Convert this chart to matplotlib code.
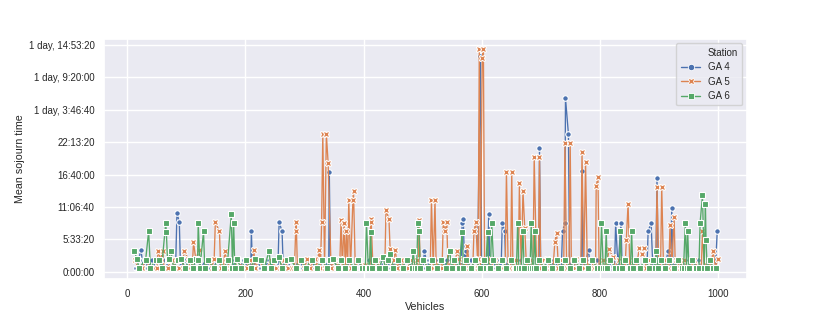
import datetime
import matplotlib
matplotlib.use("Agg")
import matplotlib.pyplot as plt
from matplotlib.lines import Line2D
from matplotlib.ticker import FuncFormatter, MultipleLocator
import seaborn as sns

stations = ["GA 4", "GA 5", "GA 6"]

# (vehicle, mean sojourn time in seconds) per station
ga4_points = [
    (14, 2500), (19, 7400), (23, 13400), (27, 2500), (30, 7600), (35, 2500), (42, 7400), (48, 2500),
    (56, 2500), (63, 7400), (70, 2500), (77, 2500), (82, 7400), (84, 36400), (88, 30500), (90, 2500),
    (97, 7400), (104, 2500), (111, 2500), (118, 7400), (125, 2500), (133, 7400), (139, 2500), (146, 2500),
    (153, 7400), (160, 2500), (168, 2500), (175, 7400), (183, 2500), (190, 2500), (197, 7400), (204, 2500),
    (209, 2500), (210, 24900), (212, 2500), (219, 7400), (226, 2500), (233, 2500), (240, 7400), (247, 2500),
    (255, 2500), (257, 30500), (262, 25100), (264, 2500), (270, 7400), (277, 2500), (284, 2500), (291, 7400),
    (298, 2500), (305, 2500), (311, 7400), (318, 2500), (325, 2500), (332, 7400), (341, 2500), (342, 61700),
    (344, 2500), (350, 7400), (356, 2500), (363, 2500), (370, 7400), (377, 2500), (384, 2500), (390, 7400),
    (397, 2500), (403, 2500), (409, 7400), (416, 2500), (422, 2500), (428, 7400), (434, 2500), (440, 2500),
    (447, 7400), (453, 2500), (459, 2500), (465, 7400), (471, 2500), (477, 2500), (483, 7400), (489, 2500),
    (495, 2500), (501, 2500), (503, 13000), (506, 7400), (512, 2500), (518, 2500), (524, 7400), (530, 2500),
    (536, 2500), (542, 7400), (548, 2500), (554, 2500), (560, 7400), (565, 2500), (567, 30000), (569, 32500),
    (571, 2500), (573, 12600), (576, 2500), (582, 7400), (588, 2500), (593, 2500), (598, 133000), (600, 2500),
    (605, 7400), (610, 2500), (612, 35400), (614, 2500), (619, 7400), (624, 2500), (630, 7400), (633, 2500),
    (635, 30200), (639, 25100), (641, 2500), (646, 7400), (652, 2500), (658, 2500), (664, 7400), (670, 2500),
    (676, 2500), (682, 7400), (688, 2500), (694, 2500), (697, 2500), (698, 76300), (700, 2500), (705, 7400),
    (711, 2500), (717, 2500), (723, 7400), (729, 2500), (735, 2500), (737, 24900), (741, 30200), (742, 107200),
    (747, 85000), (749, 2500), (754, 7400), (760, 2500), (765, 2500), (769, 2500), (770, 62100), (772, 2500),
    (777, 7400), (781, 13200), (784, 2500), (790, 2500), (796, 7400), (802, 2500), (808, 2500), (814, 7400),
    (820, 2500), (825, 2500), (827, 30000), (831, 2500), (836, 30000), (838, 2500), (844, 7400), (850, 2500),
    (856, 2500), (862, 7400), (868, 2500), (874, 2500), (880, 2500), (882, 25100), (887, 30000), (890, 2500),
    (895, 2500), (897, 57600), (899, 2500), (904, 7400), (910, 2500), (916, 13000), (920, 2500), (922, 39300),
    (924, 2500), (930, 7400), (936, 2500), (942, 2500), (948, 7400), (954, 2500), (960, 2500), (966, 7400),
    (972, 2500), (978, 2500), (984, 7400), (990, 2500), (996, 2500), (999, 24900),
]

ga5_points = [
    (13, 7400), (18, 2500), (25, 2500), (31, 7400), (38, 2500), (45, 2500), (50, 2500), (52, 13000),
    (56, 7400), (60, 13000), (62, 2500), (68, 2500), (75, 7400), (81, 2500), (88, 2500), (94, 2500),
    (96, 13000), (103, 8000), (106, 2500), (110, 2500), (112, 18300), (116, 7400), (121, 13200), (124, 2500),
    (131, 2500), (137, 7400), (143, 2500), (147, 8000), (149, 30500), (156, 24900), (158, 2500), (163, 2500),
    (165, 13000), (168, 7400), (174, 2500), (181, 2500), (188, 7400), (195, 2500), (202, 2500), (208, 7400),
    (212, 2500), (214, 13400), (217, 2500), (223, 7400), (230, 2500), (237, 2500), (244, 7400), (251, 2500),
    (258, 2500), (265, 7400), (272, 2500), (278, 2500), (283, 2500), (285, 24900), (286, 30500), (288, 2500),
    (294, 7400), (300, 2500), (305, 8000), (310, 2500), (317, 8000), (320, 2500), (325, 13400), (327, 2500),
    (329, 30500), (331, 85000), (334, 2500), (337, 85000), (340, 67300), (345, 2500), (352, 7400), (358, 2500),
    (360, 8000), (362, 32100), (364, 2500), (367, 30200), (369, 2500), (371, 24900), (373, 2500), (375, 44400),
    (378, 2500), (382, 44400), (383, 49800), (386, 2500), (392, 7400), (398, 2500), (403, 4300), (408, 2500),
    (411, 2500), (412, 32500), (413, 30500), (416, 2500), (422, 7400), (428, 2500), (434, 2500), (436, 2500),
    (438, 37900), (443, 32700), (445, 14200), (448, 2500), (451, 7400), (454, 13200), (457, 2500), (463, 7400),
    (469, 2500), (475, 2500), (481, 7400), (485, 2500), (490, 7400), (493, 2500), (494, 32100), (496, 2500),
    (502, 7400), (508, 2500), (513, 2500), (515, 44400), (518, 2500), (521, 44400), (523, 2500), (529, 7400),
    (533, 2500), (535, 30500), (538, 24900), (541, 30500), (543, 2500), (549, 7400), (555, 2500), (558, 13000),
    (562, 8000), (566, 2500), (571, 7400), (574, 2500), (576, 15900), (579, 2500), (585, 2500), (587, 24900),
    (590, 30500), (593, 8000), (594, 2500), (596, 137200), (598, 2500), (601, 131900), (603, 137200), (605, 2500),
    (611, 8000), (616, 2500), (622, 7400), (628, 2500), (634, 2500), (640, 2500), (642, 61700), (645, 2500),
    (649, 2500), (651, 61700), (653, 2500), (658, 7400), (662, 2500), (664, 54900), (667, 2500), (670, 49600),
    (673, 27100), (676, 2500), (682, 7400), (687, 2500), (689, 71000), (693, 2500), (696, 2500), (698, 71000),
    (700, 2500), (706, 7400), (711, 8000), (716, 2500), (721, 2500), (724, 18500), (727, 24000), (730, 2500),
    (735, 7400), (739, 2500), (741, 79200), (744, 2500), (748, 2500), (750, 79200), (752, 2500), (757, 2500),
    (760, 8000), (764, 2500), (768, 2500), (770, 73700), (773, 2500), (776, 67900), (779, 2500), (785, 7400),
    (790, 2500), (793, 2500), (794, 52800), (797, 58400), (799, 2500), (805, 7400), (811, 2500), (816, 14200),
    (822, 8900), (826, 2500), (832, 7400), (836, 2500), (840, 8000), (843, 2500), (845, 19600), (848, 42000),
    (851, 2500), (857, 7400), (862, 2500), (867, 14600), (872, 10900), (875, 14600), (878, 2500), (884, 7400),
    (890, 2500), (895, 2500), (897, 52400), (900, 2500), (903, 2500), (905, 52400), (908, 2500), (913, 7400),
    (917, 2500), (919, 28600), (922, 2500), (926, 33900), (928, 2500), (930, 7200), (936, 2500), (942, 7400),
    (948, 2500), (954, 2500), (960, 7400), (966, 2500), (972, 2500), (974, 24900), (977, 2500), (983, 7400),
    (988, 2500), (992, 13000), (996, 2500), (1000, 8000),
]

ga6_points = [
    (12, 13000), (16, 7600), (20, 2500), (31, 7400), (36, 24900), (39, 2500), (49, 7400), (53, 7400),
    (58, 2500), (65, 30200), (66, 24700), (68, 7400), (70, 7600), (74, 13000), (78, 2500), (86, 7400),
    (91, 7600), (98, 2500), (106, 7400), (111, 2500), (116, 7600), (119, 7400), (120, 30200), (123, 2500),
    (129, 24900), (131, 2500), (137, 7400), (146, 2500), (155, 7400), (164, 2500), (170, 7400), (176, 35400),
    (178, 2500), (180, 30200), (182, 2500), (185, 7600), (193, 2500), (201, 7400), (209, 2500), (216, 7600),
    (226, 7400), (232, 2500), (240, 12800), (243, 2500), (249, 7400), (256, 8900), (262, 2500), (271, 7400),
    (277, 7600), (285, 2500), (294, 7400), (303, 2500), (312, 7400), (321, 2500), (330, 7400), (338, 2500),
    (344, 7400), (348, 7600), (356, 2500), (362, 7400), (369, 2500), (376, 7400), (383, 2500), (390, 7400),
    (398, 2500), (403, 2500), (405, 30200), (408, 2500), (410, 2500), (412, 24700), (414, 2500), (419, 7400),
    (427, 2500), (433, 9300), (437, 2500), (442, 7400), (445, 10700), (450, 2500), (458, 7400), (466, 2500),
    (473, 7400), (482, 2500), (484, 13000), (487, 2500), (490, 2500), (492, 30200), (494, 25100), (496, 2500),
    (501, 7400), (509, 2500), (516, 7400), (524, 2500), (531, 7400), (539, 2500), (546, 13000), (549, 2500),
    (554, 7400), (562, 2500), (567, 24700), (569, 2500), (574, 7400), (582, 2500), (589, 7400), (597, 2500),
    (604, 7400), (607, 2500), (610, 24700), (612, 2500), (615, 2500), (617, 30200), (620, 7400), (627, 2500),
    (634, 7400), (642, 2500), (649, 7400), (656, 2500), (659, 2500), (661, 30200), (663, 2500), (667, 2500),
    (670, 25000), (672, 2500), (677, 7400), (682, 2500), (684, 30200), (686, 2500), (688, 2500), (690, 25100),
    (692, 2500), (697, 7400), (705, 2500), (712, 7400), (720, 2500), (727, 7400), (735, 2500), (742, 7400),
    (750, 2500), (757, 7400), (765, 2500), (772, 7400), (780, 2500), (787, 7400), (795, 2500), (801, 2500),
    (803, 30000), (806, 2500), (809, 2500), (811, 24900), (813, 2500), (818, 7400), (826, 2500), (833, 2500),
    (835, 24900), (837, 2500), (842, 7400), (850, 2500), (852, 2500), (854, 24900), (856, 2500), (861, 7400),
    (869, 2500), (876, 7400), (884, 2500), (891, 7400), (894, 2500), (896, 13000), (898, 2500), (903, 7400),
    (911, 2500), (918, 7400), (926, 2500), (933, 7400), (940, 2500), (942, 2500), (945, 30000), (947, 2500),
    (949, 24900), (951, 2500), (956, 7400), (963, 2500), (968, 2500), (970, 30200), (974, 47100), (977, 2500),
    (979, 42000), (980, 19700), (982, 2500), (987, 7400), (992, 2500), (997, 2500),
]

x_ticks = [0, 200, 400, 600, 800, 1000]
y_tick_step = 20000

sns.set_theme(style="darkgrid")
plt.rcParams["font.family"] = ["Liberation Sans", "DejaVu Sans"]

palette = sns.color_palette("deep")
markers = ["o", "X", "s"]
text_color = "#262626"

fig = plt.figure(figsize=(8.3, 3.2), dpi=100)
ax = fig.add_axes([0.1257, 0.128, 0.774, 0.75])

handles = [Line2D([], [], linestyle="none", marker="")]
for i, (name, pts) in enumerate(zip(stations, [ga4_points, ga5_points, ga6_points])):
    pts = sorted(pts)
    xs = [p[0] for p in pts]
    ys = [p[1] for p in pts]
    ax.plot(xs, ys, color=palette[i], lw=0.95, marker=markers[i],
            ms=4.0 if markers[i] != "X" else 4.6, mec="white", mew=0.8, label=name, zorder=2 + i)
    handles.append(Line2D([], [], color=palette[i], lw=1.0, marker=markers[i],
                          ms=4.6, mec="white", mew=0.6))

ax.set_xlim(-39, 1049)
ax.set_ylim(-4500, 143600)
ax.set_xticks(x_ticks)
ax.yaxis.set_major_locator(MultipleLocator(y_tick_step))
ax.yaxis.set_major_formatter(FuncFormatter(lambda v, p: str(datetime.timedelta(seconds=int(round(v))))))
ax.tick_params(axis="both", length=0, pad=7, labelsize=7.05, labelcolor=text_color)
ax.set_xlabel("Vehicles", fontsize=7.7, color=text_color, labelpad=2.5)
ax.set_ylabel("Mean sojourn time", fontsize=7.7, color=text_color, labelpad=3)

leg = ax.legend(handles, ["Station"] + stations, loc="upper right", fontsize=7.05,
                borderaxespad=0.45, handlelength=2.0, labelspacing=0.45, borderpad=0.45,
                handletextpad=0.75)
for t in leg.get_texts():
    t.set_color(text_color)

fig.savefig("out.png", dpi=100)
